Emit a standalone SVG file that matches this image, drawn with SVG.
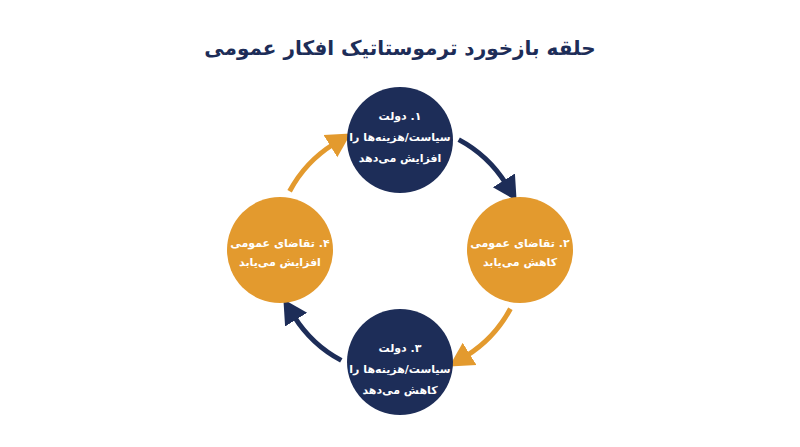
<svg xmlns="http://www.w3.org/2000/svg" width="800" height="447" viewBox="0 0 800 447">
<style>
text{font-family:"DejaVu Sans",sans-serif;font-weight:bold;text-anchor:middle;direction:rtl}
.t{fill:#fff;font-size:11px}
.navy{fill:#1d2d58}.orange{fill:#e39a2e}
.cn{fill:none;stroke:#1d2d58;stroke-width:5}
.co{fill:none;stroke:#e39a2e;stroke-width:5}
</style>
<defs>
<marker id="an" markerUnits="userSpaceOnUse" markerWidth="30" markerHeight="30" refX="4" refY="13" orient="auto" viewBox="0 0 30 26"><path d="M0,0 L24,13 L0,26 Z" fill="#1d2d58"/></marker>
<marker id="ao" markerUnits="userSpaceOnUse" markerWidth="30" markerHeight="30" refX="4" refY="13" orient="auto" viewBox="0 0 30 26"><path d="M0,0 L24,13 L0,26 Z" fill="#e39a2e"/></marker>
</defs>
<rect width="800" height="447" fill="#fff"/>
<text x="400" y="55" style="font-size:20px;fill:#1d2d58">حلقه بازخورد ترموستاتیک افکار عمومی</text>
<g id="connectors">
<path class="cn" d="M458.7,139.6 A125,125 0 0 1 506,183.8" marker-end="url(#an)"/>
<path class="co" d="M510.4,308.7 A125,125 0 0 1 466.2,356" marker-end="url(#ao)"/>
<path class="cn" d="M341.3,360.4 A125,125 0 0 1 294,316.2" marker-end="url(#an)"/>
<path class="co" d="M289.6,191.3 A125,125 0 0 1 333.8,144" marker-end="url(#ao)"/>
</g>
<g id="n1"><circle cx="400" cy="140" r="53" class="navy"/>
<text class="t" x="400" y="120">۱. دولت</text><text class="t" x="400" y="141">سیاست/هزینه‌ها را</text><text class="t" x="400" y="162">افزایش می‌دهد</text></g>
<g id="n2"><circle cx="520" cy="250" r="53" class="orange"/>
<text class="t" x="520" y="247">۲. تقاضای عمومی</text><text class="t" x="520" y="266">کاهش می‌یابد</text></g>
<g id="n3"><circle cx="400" cy="362" r="53" class="navy"/>
<text class="t" x="400" y="352">۳. دولت</text><text class="t" x="400" y="373">سیاست/هزینه‌ها را</text><text class="t" x="400" y="394">کاهش می‌دهد</text></g>
<g id="n4"><circle cx="280" cy="250" r="53" class="orange"/>
<text class="t" x="280" y="247">۴. تقاضای عمومی</text><text class="t" x="280" y="266">افزایش می‌یابد</text></g>
</svg>
